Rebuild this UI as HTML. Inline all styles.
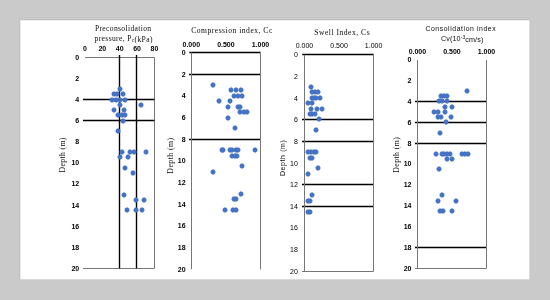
<!DOCTYPE html>
<html><head><meta charset="utf-8"><style>
html,body{margin:0;padding:0;width:550px;height:300px;overflow:hidden;background:#cacaca;}
svg{display:block;}
</style></head><body><div id="w">
<svg width="550" height="300" viewBox="0 0 550 300"><defs><filter id="bl" x="0" y="0" width="550" height="300" filterUnits="userSpaceOnUse"><feConvolveMatrix color-interpolation-filters="sRGB" order="3" kernelMatrix="0 0 0 0 1 0 0 0 0" divisor="1" edgeMode="duplicate"/></filter><filter id="tb" x="0" y="0" width="550" height="300" filterUnits="userSpaceOnUse"><feConvolveMatrix color-interpolation-filters="sRGB" order="3" kernelMatrix="0 0 0 0 1 0 0 0 0" divisor="1" edgeMode="duplicate"/></filter></defs><g filter="url(#bl)">
<rect x="0" y="0" width="550" height="300" fill="#cacaca"/>
<path d="M19.5 279V19.5H529" stroke="#c1c1c1" stroke-width="1" fill="none"/><rect x="20.4" y="20.3" width="508.9" height="259" fill="#fff"/>
<g fill="#000">
<line x1="85" y1="57.5" x2="154.4" y2="57.5" stroke="#767676" stroke-width="1.0"/>
<line x1="83" y1="268.5" x2="154.4" y2="268.5" stroke="#767676" stroke-width="1.0"/>
<line x1="154.5" y1="57.4" x2="154.5" y2="268.3" stroke="#767676" stroke-width="1.0"/>
<line x1="119.5" y1="55" x2="119.5" y2="268.3" stroke="#000" stroke-width="1.4"/>
<line x1="136.5" y1="55" x2="136.5" y2="268.3" stroke="#000" stroke-width="1.4"/>
<line x1="83" y1="99.5" x2="154.4" y2="99.5" stroke="#000" stroke-width="1.4"/>
<line x1="83" y1="120.5" x2="154.4" y2="120.5" stroke="#000" stroke-width="1.4"/>
<line x1="189.3" y1="52.5" x2="260.5" y2="52.5" stroke="#000" stroke-width="1.4"/>
<line x1="189" y1="74.5" x2="260.5" y2="74.5" stroke="#000" stroke-width="1.4"/>
<line x1="189" y1="139.5" x2="260.5" y2="139.5" stroke="#000" stroke-width="1.4"/>
<line x1="191.5" y1="52.5" x2="191.5" y2="269.3" stroke="#767676" stroke-width="1.0"/>
<line x1="260.5" y1="52.5" x2="260.5" y2="269.3" stroke="#767676" stroke-width="1.0"/>
<line x1="302.3" y1="54.5" x2="373.6" y2="54.5" stroke="#000" stroke-width="1.4"/>
<line x1="302" y1="119.5" x2="373.6" y2="119.5" stroke="#000" stroke-width="1.4"/>
<line x1="302" y1="141.5" x2="373.6" y2="141.5" stroke="#000" stroke-width="1.4"/>
<line x1="302" y1="184.5" x2="373.6" y2="184.5" stroke="#000" stroke-width="1.4"/>
<line x1="302" y1="206.5" x2="373.6" y2="206.5" stroke="#000" stroke-width="1.4"/>
<line x1="302" y1="271.5" x2="373.6" y2="271.5" stroke="#767676" stroke-width="1.0"/>
<line x1="304.5" y1="54.7" x2="304.5" y2="271.3" stroke="#767676" stroke-width="1.0"/>
<line x1="373.5" y1="54.7" x2="373.5" y2="271.3" stroke="#767676" stroke-width="1.0"/>
<line x1="415" y1="101.5" x2="486.5" y2="101.5" stroke="#000" stroke-width="1.4"/>
<line x1="415" y1="122.5" x2="486.5" y2="122.5" stroke="#000" stroke-width="1.4"/>
<line x1="415" y1="143.5" x2="486.5" y2="143.5" stroke="#000" stroke-width="1.4"/>
<line x1="415" y1="247.5" x2="486.5" y2="247.5" stroke="#000" stroke-width="1.4"/>
<line x1="415" y1="268.5" x2="486.5" y2="268.5" stroke="#767676" stroke-width="1.0"/>
<line x1="417.5" y1="60" x2="417.5" y2="268.2" stroke="#767676" stroke-width="1.0"/>
<line x1="486.5" y1="60" x2="486.5" y2="268.2" stroke="#767676" stroke-width="1.0"/>
</g>
</g>
<path d="M119.05 86.60L120.95 86.60L122.40 88.05L122.40 89.95L120.95 91.40L119.05 91.40L117.60 89.95L117.60 88.05Z" fill="#4472c4"/>
<path d="M113.05 91.60L114.95 91.60L116.40 93.05L116.40 94.95L114.95 96.40L113.05 96.40L111.60 94.95L111.60 93.05Z" fill="#4472c4"/>
<path d="M116.05 91.60L117.95 91.60L119.40 93.05L119.40 94.95L117.95 96.40L116.05 96.40L114.60 94.95L114.60 93.05Z" fill="#4472c4"/>
<path d="M122.05 91.60L123.95 91.60L125.40 93.05L125.40 94.95L123.95 96.40L122.05 96.40L120.60 94.95L120.60 93.05Z" fill="#4472c4"/>
<path d="M111.05 97.60L112.95 97.60L114.40 99.05L114.40 100.95L112.95 102.40L111.05 102.40L109.60 100.95L109.60 99.05Z" fill="#4472c4"/>
<path d="M115.05 97.60L116.95 97.60L118.40 99.05L118.40 100.95L116.95 102.40L115.05 102.40L113.60 100.95L113.60 99.05Z" fill="#4472c4"/>
<path d="M119.05 97.60L120.95 97.60L122.40 99.05L122.40 100.95L120.95 102.40L119.05 102.40L117.60 100.95L117.60 99.05Z" fill="#4472c4"/>
<path d="M124.05 97.60L125.95 97.60L127.40 99.05L127.40 100.95L125.95 102.40L124.05 102.40L122.60 100.95L122.60 99.05Z" fill="#4472c4"/>
<path d="M119.05 102.60L120.95 102.60L122.40 104.05L122.40 105.95L120.95 107.40L119.05 107.40L117.60 105.95L117.60 104.05Z" fill="#4472c4"/>
<path d="M140.05 102.60L141.95 102.60L143.40 104.05L143.40 105.95L141.95 107.40L140.05 107.40L138.60 105.95L138.60 104.05Z" fill="#4472c4"/>
<path d="M113.05 107.60L114.95 107.60L116.40 109.05L116.40 110.95L114.95 112.40L113.05 112.40L111.60 110.95L111.60 109.05Z" fill="#4472c4"/>
<path d="M123.05 107.60L124.95 107.60L126.40 109.05L126.40 110.95L124.95 112.40L123.05 112.40L121.60 110.95L121.60 109.05Z" fill="#4472c4"/>
<path d="M117.05 112.60L118.95 112.60L120.40 114.05L120.40 115.95L118.95 117.40L117.05 117.40L115.60 115.95L115.60 114.05Z" fill="#4472c4"/>
<path d="M121.05 112.60L122.95 112.60L124.40 114.05L124.40 115.95L122.95 117.40L121.05 117.40L119.60 115.95L119.60 114.05Z" fill="#4472c4"/>
<path d="M124.05 112.60L125.95 112.60L127.40 114.05L127.40 115.95L125.95 117.40L124.05 117.40L122.60 115.95L122.60 114.05Z" fill="#4472c4"/>
<path d="M122.05 118.60L123.95 118.60L125.40 120.05L125.40 121.95L123.95 123.40L122.05 123.40L120.60 121.95L120.60 120.05Z" fill="#4472c4"/>
<path d="M117.05 128.60L118.95 128.60L120.40 130.05L120.40 131.95L118.95 133.40L117.05 133.40L115.60 131.95L115.60 130.05Z" fill="#4472c4"/>
<path d="M121.05 149.60L122.95 149.60L124.40 151.05L124.40 152.95L122.95 154.40L121.05 154.40L119.60 152.95L119.60 151.05Z" fill="#4472c4"/>
<path d="M129.05 149.60L130.95 149.60L132.40 151.05L132.40 152.95L130.95 154.40L129.05 154.40L127.60 152.95L127.60 151.05Z" fill="#4472c4"/>
<path d="M133.05 149.60L134.95 149.60L136.40 151.05L136.40 152.95L134.95 154.40L133.05 154.40L131.60 152.95L131.60 151.05Z" fill="#4472c4"/>
<path d="M145.05 149.60L146.95 149.60L148.40 151.05L148.40 152.95L146.95 154.40L145.05 154.40L143.60 152.95L143.60 151.05Z" fill="#4472c4"/>
<path d="M119.05 154.60L120.95 154.60L122.40 156.05L122.40 157.95L120.95 159.40L119.05 159.40L117.60 157.95L117.60 156.05Z" fill="#4472c4"/>
<path d="M127.05 154.60L128.95 154.60L130.40 156.05L130.40 157.95L128.95 159.40L127.05 159.40L125.60 157.95L125.60 156.05Z" fill="#4472c4"/>
<path d="M124.05 165.60L125.95 165.60L127.40 167.05L127.40 168.95L125.95 170.40L124.05 170.40L122.60 168.95L122.60 167.05Z" fill="#4472c4"/>
<path d="M132.05 170.60L133.95 170.60L135.40 172.05L135.40 173.95L133.95 175.40L132.05 175.40L130.60 173.95L130.60 172.05Z" fill="#4472c4"/>
<path d="M123.05 192.60L124.95 192.60L126.40 194.05L126.40 195.95L124.95 197.40L123.05 197.40L121.60 195.95L121.60 194.05Z" fill="#4472c4"/>
<path d="M135.05 197.60L136.95 197.60L138.40 199.05L138.40 200.95L136.95 202.40L135.05 202.40L133.60 200.95L133.60 199.05Z" fill="#4472c4"/>
<path d="M143.05 197.60L144.95 197.60L146.40 199.05L146.40 200.95L144.95 202.40L143.05 202.40L141.60 200.95L141.60 199.05Z" fill="#4472c4"/>
<path d="M126.05 207.60L127.95 207.60L129.40 209.05L129.40 210.95L127.95 212.40L126.05 212.40L124.60 210.95L124.60 209.05Z" fill="#4472c4"/>
<path d="M135.05 207.60L136.95 207.60L138.40 209.05L138.40 210.95L136.95 212.40L135.05 212.40L133.60 210.95L133.60 209.05Z" fill="#4472c4"/>
<path d="M141.05 207.60L142.95 207.60L144.40 209.05L144.40 210.95L142.95 212.40L141.05 212.40L139.60 210.95L139.60 209.05Z" fill="#4472c4"/>
<path d="M212.05 82.60L213.95 82.60L215.40 84.05L215.40 85.95L213.95 87.40L212.05 87.40L210.60 85.95L210.60 84.05Z" fill="#4472c4"/>
<path d="M230.05 87.60L231.95 87.60L233.40 89.05L233.40 90.95L231.95 92.40L230.05 92.40L228.60 90.95L228.60 89.05Z" fill="#4472c4"/>
<path d="M235.05 87.60L236.95 87.60L238.40 89.05L238.40 90.95L236.95 92.40L235.05 92.40L233.60 90.95L233.60 89.05Z" fill="#4472c4"/>
<path d="M240.05 87.60L241.95 87.60L243.40 89.05L243.40 90.95L241.95 92.40L240.05 92.40L238.60 90.95L238.60 89.05Z" fill="#4472c4"/>
<path d="M233.05 93.60L234.95 93.60L236.40 95.05L236.40 96.95L234.95 98.40L233.05 98.40L231.60 96.95L231.60 95.05Z" fill="#4472c4"/>
<path d="M237.05 93.60L238.95 93.60L240.40 95.05L240.40 96.95L238.95 98.40L237.05 98.40L235.60 96.95L235.60 95.05Z" fill="#4472c4"/>
<path d="M241.05 93.60L242.95 93.60L244.40 95.05L244.40 96.95L242.95 98.40L241.05 98.40L239.60 96.95L239.60 95.05Z" fill="#4472c4"/>
<path d="M218.05 98.60L219.95 98.60L221.40 100.05L221.40 101.95L219.95 103.40L218.05 103.40L216.60 101.95L216.60 100.05Z" fill="#4472c4"/>
<path d="M229.05 98.60L230.95 98.60L232.40 100.05L232.40 101.95L230.95 103.40L229.05 103.40L227.60 101.95L227.60 100.05Z" fill="#4472c4"/>
<path d="M227.05 104.60L228.95 104.60L230.40 106.05L230.40 107.95L228.95 109.40L227.05 109.40L225.60 107.95L225.60 106.05Z" fill="#4472c4"/>
<path d="M237.05 104.60L238.95 104.60L240.40 106.05L240.40 107.95L238.95 109.40L237.05 109.40L235.60 107.95L235.60 106.05Z" fill="#4472c4"/>
<path d="M239.05 104.60L240.95 104.60L242.40 106.05L242.40 107.95L240.95 109.40L239.05 109.40L237.60 107.95L237.60 106.05Z" fill="#4472c4"/>
<path d="M239.05 109.60L240.95 109.60L242.40 111.05L242.40 112.95L240.95 114.40L239.05 114.40L237.60 112.95L237.60 111.05Z" fill="#4472c4"/>
<path d="M243.05 109.60L244.95 109.60L246.40 111.05L246.40 112.95L244.95 114.40L243.05 114.40L241.60 112.95L241.60 111.05Z" fill="#4472c4"/>
<path d="M246.05 109.60L247.95 109.60L249.40 111.05L249.40 112.95L247.95 114.40L246.05 114.40L244.60 112.95L244.60 111.05Z" fill="#4472c4"/>
<path d="M227.05 115.60L228.95 115.60L230.40 117.05L230.40 118.95L228.95 120.40L227.05 120.40L225.60 118.95L225.60 117.05Z" fill="#4472c4"/>
<path d="M234.05 125.60L235.95 125.60L237.40 127.05L237.40 128.95L235.95 130.40L234.05 130.40L232.60 128.95L232.60 127.05Z" fill="#4472c4"/>
<path d="M221.05 147.60L222.95 147.60L224.40 149.05L224.40 150.95L222.95 152.40L221.05 152.40L219.60 150.95L219.60 149.05Z" fill="#4472c4"/>
<path d="M222.05 147.60L223.95 147.60L225.40 149.05L225.40 150.95L223.95 152.40L222.05 152.40L220.60 150.95L220.60 149.05Z" fill="#4472c4"/>
<path d="M229.05 147.60L230.95 147.60L232.40 149.05L232.40 150.95L230.95 152.40L229.05 152.40L227.60 150.95L227.60 149.05Z" fill="#4472c4"/>
<path d="M231.05 147.60L232.95 147.60L234.40 149.05L234.40 150.95L232.95 152.40L231.05 152.40L229.60 150.95L229.60 149.05Z" fill="#4472c4"/>
<path d="M235.05 147.60L236.95 147.60L238.40 149.05L238.40 150.95L236.95 152.40L235.05 152.40L233.60 150.95L233.60 149.05Z" fill="#4472c4"/>
<path d="M237.05 147.60L238.95 147.60L240.40 149.05L240.40 150.95L238.95 152.40L237.05 152.40L235.60 150.95L235.60 149.05Z" fill="#4472c4"/>
<path d="M254.05 147.60L255.95 147.60L257.40 149.05L257.40 150.95L255.95 152.40L254.05 152.40L252.60 150.95L252.60 149.05Z" fill="#4472c4"/>
<path d="M231.05 153.60L232.95 153.60L234.40 155.05L234.40 156.95L232.95 158.40L231.05 158.40L229.60 156.95L229.60 155.05Z" fill="#4472c4"/>
<path d="M234.05 153.60L235.95 153.60L237.40 155.05L237.40 156.95L235.95 158.40L234.05 158.40L232.60 156.95L232.60 155.05Z" fill="#4472c4"/>
<path d="M236.05 153.60L237.95 153.60L239.40 155.05L239.40 156.95L237.95 158.40L236.05 158.40L234.60 156.95L234.60 155.05Z" fill="#4472c4"/>
<path d="M241.05 163.60L242.95 163.60L244.40 165.05L244.40 166.95L242.95 168.40L241.05 168.40L239.60 166.95L239.60 165.05Z" fill="#4472c4"/>
<path d="M212.05 169.60L213.95 169.60L215.40 171.05L215.40 172.95L213.95 174.40L212.05 174.40L210.60 172.95L210.60 171.05Z" fill="#4472c4"/>
<path d="M240.05 191.60L241.95 191.60L243.40 193.05L243.40 194.95L241.95 196.40L240.05 196.40L238.60 194.95L238.60 193.05Z" fill="#4472c4"/>
<path d="M233.05 196.60L234.95 196.60L236.40 198.05L236.40 199.95L234.95 201.40L233.05 201.40L231.60 199.95L231.60 198.05Z" fill="#4472c4"/>
<path d="M235.05 196.60L236.95 196.60L238.40 198.05L238.40 199.95L236.95 201.40L235.05 201.40L233.60 199.95L233.60 198.05Z" fill="#4472c4"/>
<path d="M224.05 207.60L225.95 207.60L227.40 209.05L227.40 210.95L225.95 212.40L224.05 212.40L222.60 210.95L222.60 209.05Z" fill="#4472c4"/>
<path d="M232.05 207.60L233.95 207.60L235.40 209.05L235.40 210.95L233.95 212.40L232.05 212.40L230.60 210.95L230.60 209.05Z" fill="#4472c4"/>
<path d="M235.05 207.60L236.95 207.60L238.40 209.05L238.40 210.95L236.95 212.40L235.05 212.40L233.60 210.95L233.60 209.05Z" fill="#4472c4"/>
<path d="M310.05 84.60L311.95 84.60L313.40 86.05L313.40 87.95L311.95 89.40L310.05 89.40L308.60 87.95L308.60 86.05Z" fill="#4472c4"/>
<path d="M311.05 89.60L312.95 89.60L314.40 91.05L314.40 92.95L312.95 94.40L311.05 94.40L309.60 92.95L309.60 91.05Z" fill="#4472c4"/>
<path d="M314.05 89.60L315.95 89.60L317.40 91.05L317.40 92.95L315.95 94.40L314.05 94.40L312.60 92.95L312.60 91.05Z" fill="#4472c4"/>
<path d="M317.05 89.60L318.95 89.60L320.40 91.05L320.40 92.95L318.95 94.40L317.05 94.40L315.60 92.95L315.60 91.05Z" fill="#4472c4"/>
<path d="M311.05 95.60L312.95 95.60L314.40 97.05L314.40 98.95L312.95 100.40L311.05 100.40L309.60 98.95L309.60 97.05Z" fill="#4472c4"/>
<path d="M313.05 95.60L314.95 95.60L316.40 97.05L316.40 98.95L314.95 100.40L313.05 100.40L311.60 98.95L311.60 97.05Z" fill="#4472c4"/>
<path d="M315.05 95.60L316.95 95.60L318.40 97.05L318.40 98.95L316.95 100.40L315.05 100.40L313.60 98.95L313.60 97.05Z" fill="#4472c4"/>
<path d="M319.05 95.60L320.95 95.60L322.40 97.05L322.40 98.95L320.95 100.40L319.05 100.40L317.60 98.95L317.60 97.05Z" fill="#4472c4"/>
<path d="M307.05 100.60L308.95 100.60L310.40 102.05L310.40 103.95L308.95 105.40L307.05 105.40L305.60 103.95L305.60 102.05Z" fill="#4472c4"/>
<path d="M311.05 100.60L312.95 100.60L314.40 102.05L314.40 103.95L312.95 105.40L311.05 105.40L309.60 103.95L309.60 102.05Z" fill="#4472c4"/>
<path d="M310.05 106.60L311.95 106.60L313.40 108.05L313.40 109.95L311.95 111.40L310.05 111.40L308.60 109.95L308.60 108.05Z" fill="#4472c4"/>
<path d="M316.05 106.60L317.95 106.60L319.40 108.05L319.40 109.95L317.95 111.40L316.05 111.40L314.60 109.95L314.60 108.05Z" fill="#4472c4"/>
<path d="M321.05 106.60L322.95 106.60L324.40 108.05L324.40 109.95L322.95 111.40L321.05 111.40L319.60 109.95L319.60 108.05Z" fill="#4472c4"/>
<path d="M309.05 111.60L310.95 111.60L312.40 113.05L312.40 114.95L310.95 116.40L309.05 116.40L307.60 114.95L307.60 113.05Z" fill="#4472c4"/>
<path d="M311.05 111.60L312.95 111.60L314.40 113.05L314.40 114.95L312.95 116.40L311.05 116.40L309.60 114.95L309.60 113.05Z" fill="#4472c4"/>
<path d="M314.05 111.60L315.95 111.60L317.40 113.05L317.40 114.95L315.95 116.40L314.05 116.40L312.60 114.95L312.60 113.05Z" fill="#4472c4"/>
<path d="M318.05 116.60L319.95 116.60L321.40 118.05L321.40 119.95L319.95 121.40L318.05 121.40L316.60 119.95L316.60 118.05Z" fill="#4472c4"/>
<path d="M315.05 127.60L316.95 127.60L318.40 129.05L318.40 130.95L316.95 132.40L315.05 132.40L313.60 130.95L313.60 129.05Z" fill="#4472c4"/>
<path d="M307.05 149.60L308.95 149.60L310.40 151.05L310.40 152.95L308.95 154.40L307.05 154.40L305.60 152.95L305.60 151.05Z" fill="#4472c4"/>
<path d="M310.05 149.60L311.95 149.60L313.40 151.05L313.40 152.95L311.95 154.40L310.05 154.40L308.60 152.95L308.60 151.05Z" fill="#4472c4"/>
<path d="M313.05 149.60L314.95 149.60L316.40 151.05L316.40 152.95L314.95 154.40L313.05 154.40L311.60 152.95L311.60 151.05Z" fill="#4472c4"/>
<path d="M315.05 149.60L316.95 149.60L318.40 151.05L318.40 152.95L316.95 154.40L315.05 154.40L313.60 152.95L313.60 151.05Z" fill="#4472c4"/>
<path d="M309.05 155.60L310.95 155.60L312.40 157.05L312.40 158.95L310.95 160.40L309.05 160.40L307.60 158.95L307.60 157.05Z" fill="#4472c4"/>
<path d="M311.05 155.60L312.95 155.60L314.40 157.05L314.40 158.95L312.95 160.40L311.05 160.40L309.60 158.95L309.60 157.05Z" fill="#4472c4"/>
<path d="M317.05 165.60L318.95 165.60L320.40 167.05L320.40 168.95L318.95 170.40L317.05 170.40L315.60 168.95L315.60 167.05Z" fill="#4472c4"/>
<path d="M307.05 171.60L308.95 171.60L310.40 173.05L310.40 174.95L308.95 176.40L307.05 176.40L305.60 174.95L305.60 173.05Z" fill="#4472c4"/>
<path d="M311.05 192.60L312.95 192.60L314.40 194.05L314.40 195.95L312.95 197.40L311.05 197.40L309.60 195.95L309.60 194.05Z" fill="#4472c4"/>
<path d="M307.05 198.60L308.95 198.60L310.40 200.05L310.40 201.95L308.95 203.40L307.05 203.40L305.60 201.95L305.60 200.05Z" fill="#4472c4"/>
<path d="M309.05 198.60L310.95 198.60L312.40 200.05L312.40 201.95L310.95 203.40L309.05 203.40L307.60 201.95L307.60 200.05Z" fill="#4472c4"/>
<path d="M307.05 209.60L308.95 209.60L310.40 211.05L310.40 212.95L308.95 214.40L307.05 214.40L305.60 212.95L305.60 211.05Z" fill="#4472c4"/>
<path d="M309.05 209.60L310.95 209.60L312.40 211.05L312.40 212.95L310.95 214.40L309.05 214.40L307.60 212.95L307.60 211.05Z" fill="#4472c4"/>
<path d="M466.05 88.60L467.95 88.60L469.40 90.05L469.40 91.95L467.95 93.40L466.05 93.40L464.60 91.95L464.60 90.05Z" fill="#4472c4"/>
<path d="M440.05 93.60L441.95 93.60L443.40 95.05L443.40 96.95L441.95 98.40L440.05 98.40L438.60 96.95L438.60 95.05Z" fill="#4472c4"/>
<path d="M443.05 93.60L444.95 93.60L446.40 95.05L446.40 96.95L444.95 98.40L443.05 98.40L441.60 96.95L441.60 95.05Z" fill="#4472c4"/>
<path d="M446.05 93.60L447.95 93.60L449.40 95.05L449.40 96.95L447.95 98.40L446.05 98.40L444.60 96.95L444.60 95.05Z" fill="#4472c4"/>
<path d="M438.05 98.60L439.95 98.60L441.40 100.05L441.40 101.95L439.95 103.40L438.05 103.40L436.60 101.95L436.60 100.05Z" fill="#4472c4"/>
<path d="M441.05 98.60L442.95 98.60L444.40 100.05L444.40 101.95L442.95 103.40L441.05 103.40L439.60 101.95L439.60 100.05Z" fill="#4472c4"/>
<path d="M446.05 98.60L447.95 98.60L449.40 100.05L449.40 101.95L447.95 103.40L446.05 103.40L444.60 101.95L444.60 100.05Z" fill="#4472c4"/>
<path d="M444.05 104.60L445.95 104.60L447.40 106.05L447.40 107.95L445.95 109.40L444.05 109.40L442.60 107.95L442.60 106.05Z" fill="#4472c4"/>
<path d="M451.05 104.60L452.95 104.60L454.40 106.05L454.40 107.95L452.95 109.40L451.05 109.40L449.60 107.95L449.60 106.05Z" fill="#4472c4"/>
<path d="M433.05 109.60L434.95 109.60L436.40 111.05L436.40 112.95L434.95 114.40L433.05 114.40L431.60 112.95L431.60 111.05Z" fill="#4472c4"/>
<path d="M437.05 109.60L438.95 109.60L440.40 111.05L440.40 112.95L438.95 114.40L437.05 114.40L435.60 112.95L435.60 111.05Z" fill="#4472c4"/>
<path d="M444.05 109.60L445.95 109.60L447.40 111.05L447.40 112.95L445.95 114.40L444.05 114.40L442.60 112.95L442.60 111.05Z" fill="#4472c4"/>
<path d="M437.05 114.60L438.95 114.60L440.40 116.05L440.40 117.95L438.95 119.40L437.05 119.40L435.60 117.95L435.60 116.05Z" fill="#4472c4"/>
<path d="M440.05 114.60L441.95 114.60L443.40 116.05L443.40 117.95L441.95 119.40L440.05 119.40L438.60 117.95L438.60 116.05Z" fill="#4472c4"/>
<path d="M450.05 114.60L451.95 114.60L453.40 116.05L453.40 117.95L451.95 119.40L450.05 119.40L448.60 117.95L448.60 116.05Z" fill="#4472c4"/>
<path d="M445.05 119.60L446.95 119.60L448.40 121.05L448.40 122.95L446.95 124.40L445.05 124.40L443.60 122.95L443.60 121.05Z" fill="#4472c4"/>
<path d="M439.05 130.60L440.95 130.60L442.40 132.05L442.40 133.95L440.95 135.40L439.05 135.40L437.60 133.95L437.60 132.05Z" fill="#4472c4"/>
<path d="M435.05 151.60L436.95 151.60L438.40 153.05L438.40 154.95L436.95 156.40L435.05 156.40L433.60 154.95L433.60 153.05Z" fill="#4472c4"/>
<path d="M441.05 151.60L442.95 151.60L444.40 153.05L444.40 154.95L442.95 156.40L441.05 156.40L439.60 154.95L439.60 153.05Z" fill="#4472c4"/>
<path d="M443.05 151.60L444.95 151.60L446.40 153.05L446.40 154.95L444.95 156.40L443.05 156.40L441.60 154.95L441.60 153.05Z" fill="#4472c4"/>
<path d="M446.05 151.60L447.95 151.60L449.40 153.05L449.40 154.95L447.95 156.40L446.05 156.40L444.60 154.95L444.60 153.05Z" fill="#4472c4"/>
<path d="M449.05 151.60L450.95 151.60L452.40 153.05L452.40 154.95L450.95 156.40L449.05 156.40L447.60 154.95L447.60 153.05Z" fill="#4472c4"/>
<path d="M461.05 151.60L462.95 151.60L464.40 153.05L464.40 154.95L462.95 156.40L461.05 156.40L459.60 154.95L459.60 153.05Z" fill="#4472c4"/>
<path d="M464.05 151.60L465.95 151.60L467.40 153.05L467.40 154.95L465.95 156.40L464.05 156.40L462.60 154.95L462.60 153.05Z" fill="#4472c4"/>
<path d="M467.05 151.60L468.95 151.60L470.40 153.05L470.40 154.95L468.95 156.40L467.05 156.40L465.60 154.95L465.60 153.05Z" fill="#4472c4"/>
<path d="M446.05 156.60L447.95 156.60L449.40 158.05L449.40 159.95L447.95 161.40L446.05 161.40L444.60 159.95L444.60 158.05Z" fill="#4472c4"/>
<path d="M451.05 156.60L452.95 156.60L454.40 158.05L454.40 159.95L452.95 161.40L451.05 161.40L449.60 159.95L449.60 158.05Z" fill="#4472c4"/>
<path d="M438.05 166.60L439.95 166.60L441.40 168.05L441.40 169.95L439.95 171.40L438.05 171.40L436.60 169.95L436.60 168.05Z" fill="#4472c4"/>
<path d="M441.05 192.60L442.95 192.60L444.40 194.05L444.40 195.95L442.95 197.40L441.05 197.40L439.60 195.95L439.60 194.05Z" fill="#4472c4"/>
<path d="M437.05 198.60L438.95 198.60L440.40 200.05L440.40 201.95L438.95 203.40L437.05 203.40L435.60 201.95L435.60 200.05Z" fill="#4472c4"/>
<path d="M455.05 198.60L456.95 198.60L458.40 200.05L458.40 201.95L456.95 203.40L455.05 203.40L453.60 201.95L453.60 200.05Z" fill="#4472c4"/>
<path d="M439.05 208.60L440.95 208.60L442.40 210.05L442.40 211.95L440.95 213.40L439.05 213.40L437.60 211.95L437.60 210.05Z" fill="#4472c4"/>
<path d="M442.05 208.60L443.95 208.60L445.40 210.05L445.40 211.95L443.95 213.40L442.05 213.40L440.60 211.95L440.60 210.05Z" fill="#4472c4"/>
<path d="M451.05 208.60L452.95 208.60L454.40 210.05L454.40 211.95L452.95 213.40L451.05 213.40L449.60 211.95L449.60 210.05Z" fill="#4472c4"/>
<g filter="url(#tb)">
<text x="79.2" y="57.4" font-family="Liberation Sans" font-size="7" font-weight="700" text-anchor="end" dominant-baseline="central" letter-spacing="0" fill="#000" stroke="#000" stroke-width="0" >0</text>
<text x="79.2" y="78.49" font-family="Liberation Sans" font-size="7" font-weight="700" text-anchor="end" dominant-baseline="central" letter-spacing="0" fill="#000" stroke="#000" stroke-width="0" >2</text>
<text x="79.2" y="99.58" font-family="Liberation Sans" font-size="7" font-weight="700" text-anchor="end" dominant-baseline="central" letter-spacing="0" fill="#000" stroke="#000" stroke-width="0" >4</text>
<text x="79.2" y="120.67" font-family="Liberation Sans" font-size="7" font-weight="700" text-anchor="end" dominant-baseline="central" letter-spacing="0" fill="#000" stroke="#000" stroke-width="0" >6</text>
<text x="79.2" y="141.76" font-family="Liberation Sans" font-size="7" font-weight="700" text-anchor="end" dominant-baseline="central" letter-spacing="0" fill="#000" stroke="#000" stroke-width="0" >8</text>
<text x="79.2" y="162.85" font-family="Liberation Sans" font-size="7" font-weight="700" text-anchor="end" dominant-baseline="central" letter-spacing="0" fill="#000" stroke="#000" stroke-width="0" >10</text>
<text x="79.2" y="183.94" font-family="Liberation Sans" font-size="7" font-weight="700" text-anchor="end" dominant-baseline="central" letter-spacing="0" fill="#000" stroke="#000" stroke-width="0" >12</text>
<text x="79.2" y="205.03" font-family="Liberation Sans" font-size="7" font-weight="700" text-anchor="end" dominant-baseline="central" letter-spacing="0" fill="#000" stroke="#000" stroke-width="0" >14</text>
<text x="79.2" y="226.12" font-family="Liberation Sans" font-size="7" font-weight="700" text-anchor="end" dominant-baseline="central" letter-spacing="0" fill="#000" stroke="#000" stroke-width="0" >16</text>
<text x="79.2" y="247.21" font-family="Liberation Sans" font-size="7" font-weight="700" text-anchor="end" dominant-baseline="central" letter-spacing="0" fill="#000" stroke="#000" stroke-width="0" >18</text>
<text x="79.2" y="268.3" font-family="Liberation Sans" font-size="7" font-weight="700" text-anchor="end" dominant-baseline="central" letter-spacing="0" fill="#000" stroke="#000" stroke-width="0" >20</text>
<text x="85.0" y="48.8" font-family="Liberation Sans" font-size="7" font-weight="700" text-anchor="middle" dominant-baseline="central" letter-spacing="0" fill="#000" stroke="#000" stroke-width="0" >0</text>
<text x="102.35" y="48.8" font-family="Liberation Sans" font-size="7" font-weight="700" text-anchor="middle" dominant-baseline="central" letter-spacing="0" fill="#000" stroke="#000" stroke-width="0" >20</text>
<text x="119.7" y="48.8" font-family="Liberation Sans" font-size="7" font-weight="700" text-anchor="middle" dominant-baseline="central" letter-spacing="0" fill="#000" stroke="#000" stroke-width="0" >40</text>
<text x="137.05" y="48.8" font-family="Liberation Sans" font-size="7" font-weight="700" text-anchor="middle" dominant-baseline="central" letter-spacing="0" fill="#000" stroke="#000" stroke-width="0" >60</text>
<text x="154.4" y="48.8" font-family="Liberation Sans" font-size="7" font-weight="700" text-anchor="middle" dominant-baseline="central" letter-spacing="0" fill="#000" stroke="#000" stroke-width="0" >80</text>
<text x="123.2" y="28.7" font-family="Liberation Serif" font-size="7.6" font-weight="400" text-anchor="middle" dominant-baseline="central" letter-spacing="0.35" fill="#0a0a0a"  >Preconsolidation</text>
<text x="123.7" y="38.7" font-family="Liberation Serif" font-size="7.6" font-weight="400" text-anchor="middle" dominant-baseline="central" letter-spacing="0.35" fill="#0a0a0a"  >pressure, P<tspan font-size="5.5" dy="1">c</tspan><tspan dy="-1">(kPa)</tspan></text>
<text x="0" y="0" font-family="Liberation Serif" font-size="7.8" font-weight="400" text-anchor="middle" dominant-baseline="central" letter-spacing="0.35" fill="#0a0a0a"  transform="translate(62.4 154.9) rotate(-90)">Depth (m)</text>
<text x="185.6" y="52.5" font-family="Liberation Sans" font-size="7" font-weight="700" text-anchor="end" dominant-baseline="central" letter-spacing="0" fill="#000" stroke="#000" stroke-width="0" >0</text>
<text x="185.6" y="74.18" font-family="Liberation Sans" font-size="7" font-weight="700" text-anchor="end" dominant-baseline="central" letter-spacing="0" fill="#000" stroke="#000" stroke-width="0" >2</text>
<text x="185.6" y="95.86" font-family="Liberation Sans" font-size="7" font-weight="700" text-anchor="end" dominant-baseline="central" letter-spacing="0" fill="#000" stroke="#000" stroke-width="0" >4</text>
<text x="185.6" y="117.54" font-family="Liberation Sans" font-size="7" font-weight="700" text-anchor="end" dominant-baseline="central" letter-spacing="0" fill="#000" stroke="#000" stroke-width="0" >6</text>
<text x="185.6" y="139.22" font-family="Liberation Sans" font-size="7" font-weight="700" text-anchor="end" dominant-baseline="central" letter-spacing="0" fill="#000" stroke="#000" stroke-width="0" >8</text>
<text x="185.6" y="160.9" font-family="Liberation Sans" font-size="7" font-weight="700" text-anchor="end" dominant-baseline="central" letter-spacing="0" fill="#000" stroke="#000" stroke-width="0" >10</text>
<text x="185.6" y="182.58" font-family="Liberation Sans" font-size="7" font-weight="700" text-anchor="end" dominant-baseline="central" letter-spacing="0" fill="#000" stroke="#000" stroke-width="0" >12</text>
<text x="185.6" y="204.26" font-family="Liberation Sans" font-size="7" font-weight="700" text-anchor="end" dominant-baseline="central" letter-spacing="0" fill="#000" stroke="#000" stroke-width="0" >14</text>
<text x="185.6" y="225.94" font-family="Liberation Sans" font-size="7" font-weight="700" text-anchor="end" dominant-baseline="central" letter-spacing="0" fill="#000" stroke="#000" stroke-width="0" >16</text>
<text x="185.6" y="247.62" font-family="Liberation Sans" font-size="7" font-weight="700" text-anchor="end" dominant-baseline="central" letter-spacing="0" fill="#000" stroke="#000" stroke-width="0" >18</text>
<text x="185.6" y="269.3" font-family="Liberation Sans" font-size="7" font-weight="700" text-anchor="end" dominant-baseline="central" letter-spacing="0" fill="#000" stroke="#000" stroke-width="0" >20</text>
<text x="191.3" y="44.2" font-family="Liberation Sans" font-size="7" font-weight="700" text-anchor="middle" dominant-baseline="central" letter-spacing="0" fill="#000" stroke="#000" stroke-width="0" >0.000</text>
<text x="225.9" y="44.2" font-family="Liberation Sans" font-size="7" font-weight="700" text-anchor="middle" dominant-baseline="central" letter-spacing="0" fill="#000" stroke="#000" stroke-width="0" >0.500</text>
<text x="260.5" y="44.2" font-family="Liberation Sans" font-size="7" font-weight="700" text-anchor="middle" dominant-baseline="central" letter-spacing="0" fill="#000" stroke="#000" stroke-width="0" >1.000</text>
<text x="232.0" y="30.4" font-family="Liberation Serif" font-size="7.6" font-weight="400" text-anchor="middle" dominant-baseline="central" letter-spacing="0.5" fill="#0a0a0a"  >Compression index, Cc</text>
<text x="0" y="0" font-family="Liberation Serif" font-size="7.8" font-weight="400" text-anchor="middle" dominant-baseline="central" letter-spacing="0.45" fill="#0a0a0a"  transform="translate(170.2 155.5) rotate(-90)">Depth (m)</text>
<text x="297.9" y="54.7" font-family="Liberation Sans" font-size="7" font-weight="400" text-anchor="end" dominant-baseline="central" letter-spacing="0" fill="#000"  >0</text>
<text x="297.9" y="76.36" font-family="Liberation Sans" font-size="7" font-weight="400" text-anchor="end" dominant-baseline="central" letter-spacing="0" fill="#000"  >2</text>
<text x="297.9" y="98.02" font-family="Liberation Sans" font-size="7" font-weight="400" text-anchor="end" dominant-baseline="central" letter-spacing="0" fill="#000"  >4</text>
<text x="297.9" y="119.68" font-family="Liberation Sans" font-size="7" font-weight="400" text-anchor="end" dominant-baseline="central" letter-spacing="0" fill="#000"  >6</text>
<text x="297.9" y="141.34" font-family="Liberation Sans" font-size="7" font-weight="400" text-anchor="end" dominant-baseline="central" letter-spacing="0" fill="#000"  >8</text>
<text x="297.9" y="163.0" font-family="Liberation Sans" font-size="7" font-weight="400" text-anchor="end" dominant-baseline="central" letter-spacing="0" fill="#000"  >10</text>
<text x="297.9" y="184.66" font-family="Liberation Sans" font-size="7" font-weight="400" text-anchor="end" dominant-baseline="central" letter-spacing="0" fill="#000"  >12</text>
<text x="297.9" y="206.32" font-family="Liberation Sans" font-size="7" font-weight="400" text-anchor="end" dominant-baseline="central" letter-spacing="0" fill="#000"  >14</text>
<text x="297.9" y="227.98" font-family="Liberation Sans" font-size="7" font-weight="400" text-anchor="end" dominant-baseline="central" letter-spacing="0" fill="#000"  >16</text>
<text x="297.9" y="249.64" font-family="Liberation Sans" font-size="7" font-weight="400" text-anchor="end" dominant-baseline="central" letter-spacing="0" fill="#000"  >18</text>
<text x="297.9" y="271.3" font-family="Liberation Sans" font-size="7" font-weight="400" text-anchor="end" dominant-baseline="central" letter-spacing="0" fill="#000"  >20</text>
<text x="304.5" y="45.6" font-family="Liberation Sans" font-size="7" font-weight="400" text-anchor="middle" dominant-baseline="central" letter-spacing="0" fill="#000"  >0.000</text>
<text x="339.05" y="45.6" font-family="Liberation Sans" font-size="7" font-weight="400" text-anchor="middle" dominant-baseline="central" letter-spacing="0" fill="#000"  >0.500</text>
<text x="373.6" y="45.6" font-family="Liberation Sans" font-size="7" font-weight="400" text-anchor="middle" dominant-baseline="central" letter-spacing="0" fill="#000"  >1.000</text>
<text x="342.2" y="32.1" font-family="Liberation Serif" font-size="7.6" font-weight="400" text-anchor="middle" dominant-baseline="central" letter-spacing="0.5" fill="#0a0a0a"  >Swell Index, Cs</text>
<text x="0" y="0" font-family="Liberation Sans" font-size="7.0" font-weight="400" text-anchor="middle" dominant-baseline="central" letter-spacing="0.6" fill="#0a0a0a"  transform="translate(282.5 157.8) rotate(-90)">Depth (m)</text>
<text x="411.5" y="59.6" font-family="Liberation Sans" font-size="7" font-weight="700" text-anchor="end" dominant-baseline="central" letter-spacing="0" fill="#000" stroke="#000" stroke-width="0" >0</text>
<text x="411.5" y="80.46" font-family="Liberation Sans" font-size="7" font-weight="700" text-anchor="end" dominant-baseline="central" letter-spacing="0" fill="#000" stroke="#000" stroke-width="0" >2</text>
<text x="411.5" y="101.32" font-family="Liberation Sans" font-size="7" font-weight="700" text-anchor="end" dominant-baseline="central" letter-spacing="0" fill="#000" stroke="#000" stroke-width="0" >4</text>
<text x="411.5" y="122.18" font-family="Liberation Sans" font-size="7" font-weight="700" text-anchor="end" dominant-baseline="central" letter-spacing="0" fill="#000" stroke="#000" stroke-width="0" >6</text>
<text x="411.5" y="143.04" font-family="Liberation Sans" font-size="7" font-weight="700" text-anchor="end" dominant-baseline="central" letter-spacing="0" fill="#000" stroke="#000" stroke-width="0" >8</text>
<text x="411.5" y="163.9" font-family="Liberation Sans" font-size="7" font-weight="700" text-anchor="end" dominant-baseline="central" letter-spacing="0" fill="#000" stroke="#000" stroke-width="0" >10</text>
<text x="411.5" y="184.76" font-family="Liberation Sans" font-size="7" font-weight="700" text-anchor="end" dominant-baseline="central" letter-spacing="0" fill="#000" stroke="#000" stroke-width="0" >12</text>
<text x="411.5" y="205.62" font-family="Liberation Sans" font-size="7" font-weight="700" text-anchor="end" dominant-baseline="central" letter-spacing="0" fill="#000" stroke="#000" stroke-width="0" >14</text>
<text x="411.5" y="226.48" font-family="Liberation Sans" font-size="7" font-weight="700" text-anchor="end" dominant-baseline="central" letter-spacing="0" fill="#000" stroke="#000" stroke-width="0" >16</text>
<text x="411.5" y="247.34" font-family="Liberation Sans" font-size="7" font-weight="700" text-anchor="end" dominant-baseline="central" letter-spacing="0" fill="#000" stroke="#000" stroke-width="0" >18</text>
<text x="411.5" y="268.2" font-family="Liberation Sans" font-size="7" font-weight="700" text-anchor="end" dominant-baseline="central" letter-spacing="0" fill="#000" stroke="#000" stroke-width="0" >20</text>
<text x="417.4" y="51.7" font-family="Liberation Sans" font-size="7" font-weight="700" text-anchor="middle" dominant-baseline="central" letter-spacing="0" fill="#000" stroke="#000" stroke-width="0" >0.000</text>
<text x="451.95" y="51.7" font-family="Liberation Sans" font-size="7" font-weight="700" text-anchor="middle" dominant-baseline="central" letter-spacing="0" fill="#000" stroke="#000" stroke-width="0" >0.500</text>
<text x="486.5" y="51.7" font-family="Liberation Sans" font-size="7" font-weight="700" text-anchor="middle" dominant-baseline="central" letter-spacing="0" fill="#000" stroke="#000" stroke-width="0" >1.000</text>
<text x="460.8" y="28.7" font-family="Liberation Sans" font-size="6.8" font-weight="400" text-anchor="middle" dominant-baseline="central" letter-spacing="0.6" fill="#0a0a0a"  >Consolidation index</text>
<text x="462.2" y="38.6" font-family="Liberation Sans" font-size="7.2" font-weight="400" text-anchor="middle" dominant-baseline="central" letter-spacing="0.1" fill="#0a0a0a"  >Cv(10<tspan font-size="5" dy="-2">-3</tspan><tspan dy="2">cm/s)</tspan></text>
<text x="0" y="0" font-family="Liberation Serif" font-size="7.8" font-weight="400" text-anchor="middle" dominant-baseline="central" letter-spacing="0.4" fill="#0a0a0a"  transform="translate(396 154.8) rotate(-90)">Depth (m)</text>
</g>
</svg></div>
</body></html>
